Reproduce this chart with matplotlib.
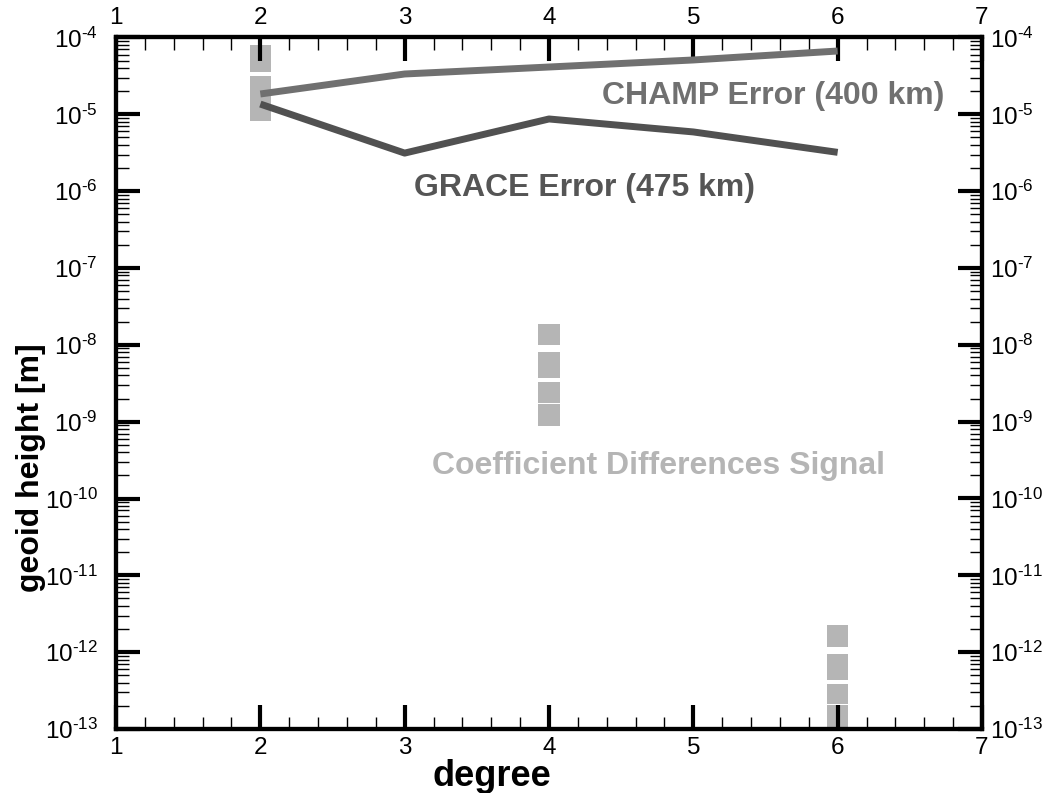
import matplotlib
matplotlib.use("Agg")
import matplotlib.pyplot as plt
from matplotlib.ticker import LogLocator, MultipleLocator, FixedLocator, FuncFormatter
import math

plt.rcParams['font.family'] = ['Liberation Sans', 'DejaVu Sans']
plt.rcParams['mathtext.fontset'] = 'custom'
plt.rcParams['mathtext.rm'] = 'Liberation Sans'
plt.rcParams['mathtext.it'] = 'Liberation Sans'
plt.rcParams['mathtext.default'] = 'regular'
plt.rcParams['axes.unicode_minus'] = False

# Data
degrees = [2, 3, 4, 5, 6]
champ_error = [1.84e-5, 3.35e-5, 4.13e-5, 5.1e-5, 6.67e-5]
grace_error = [1.36e-5, 3.13e-6, 8.7e-6, 5.9e-6, 3.2e-6]

signal_degree = [2, 2, 4, 4, 4, 4, 6, 6, 6, 6]
signal_low = [3.56e-5, 8.2e-6, 9.9e-9, 3.7e-9, 1.74e-9, 8.7e-10, 1.16e-12, 4.3e-13, 2.1e-13, 8e-14]
signal_high = [7.98e-5, 3.16e-5, 1.86e-8, 8.0e-9, 3.27e-9, 1.69e-9, 2.24e-12, 9.6e-13, 3.9e-13, 2.03e-13]

x_ticks = [1, 2, 3, 4, 5, 6, 7]


def sci_fmt(v, pos):
    e = int(round(math.log10(v)))
    s = str(e).replace('-', '\u2010')
    return r'$10^{%s}$' % s


fig = plt.figure(figsize=(10.51, 7.93), dpi=100)
ax = fig.add_axes([116/1051, 1-729/793, 866/1051, 691.5/793])

sig_color = '#b5b5b5'
heights = [h - l for l, h in zip(signal_low, signal_high)]
ax.bar(signal_degree, heights, bottom=signal_low, width=0.148, color=sig_color,
       edgecolor='none', zorder=1)

ax.plot(degrees, champ_error, color='#707070', lw=5, solid_capstyle='butt', zorder=3)
ax.plot(degrees, grace_error, color='#515151', lw=5, solid_capstyle='butt', zorder=3)

ax2 = ax.twinx()
for a in (ax, ax2):
    a.set_yscale('log')
    a.set_ylim(1e-13, 1e-4)
    a.yaxis.set_major_locator(LogLocator(base=10, numticks=20))
    a.yaxis.set_minor_locator(LogLocator(base=10, subs=range(2, 10), numticks=20))
    a.yaxis.set_major_formatter(FuncFormatter(sci_fmt))
    a.tick_params(which='both', direction='in', labelsize=17.5)
    a.tick_params(which='major', length=17, width=3)
    a.tick_params(which='minor', length=9, width=1)
    for s in a.spines.values():
        s.set_linewidth(3)
ax.set_xlim(1, 7)
ax.xaxis.set_major_locator(FixedLocator(x_ticks))
ax.xaxis.set_minor_locator(MultipleLocator(0.2))
ax.tick_params(which='both', top=True, right=False, labeltop=True, labelright=False)
ax.tick_params(axis='x', which='major', pad=6)
ax.tick_params(axis='y', which='major', pad=13)
ax2.tick_params(axis='y', which='major', pad=6)

fig.text(492/1051, 1 - 776/793, 'degree', fontsize=26, fontweight='bold',
         ha='center', va='center')
fig.text(31/1051, 1 - 468/793, 'geoid height [m]', fontsize=23, fontweight='bold',
         ha='center', va='center', rotation=90)

fig.text(773/1051, 1 - 96/793, 'CHAMP Error (400 km)', fontsize=23, fontweight='bold',
         color='#707070', ha='center', va='center')
fig.text(584/1051, 1 - 188/793, 'GRACE Error (475 km)', fontsize=23, fontweight='bold',
         color='#555555', ha='center', va='center')
fig.text(659/1051, 1 - 466/793, 'Coefficient Differences Signal', fontsize=23,
         fontweight='bold', color=sig_color, ha='center', va='center')

fig.savefig('out.png', dpi=100)
